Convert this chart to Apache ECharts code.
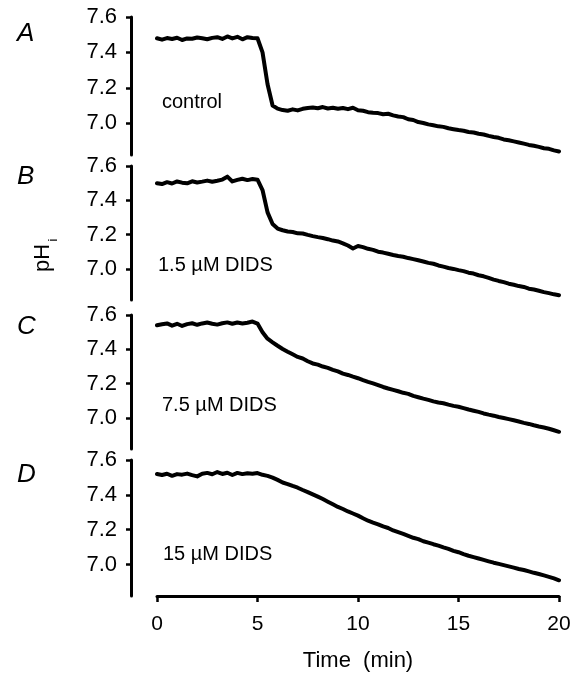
<!DOCTYPE html>
<html>
<head>
<meta charset="utf-8">
<script src="https://cdn.jsdelivr.net/npm/echarts@6/dist/echarts.min.js"></script>
<style>
  html, body { margin: 0; padding: 0; background: #fff; }
  #chart { width: 580px; height: 673px; }
</style>
</head>
<body>
<div id="chart"></div>
<script>
// Time (min)
const timeMin = [0,0.25,0.5,0.75,1,1.25,1.5,1.75,2,2.25,2.5,2.75,3,3.25,3.5,3.75,4,4.25,4.5,4.75,5,5.25,5.5,5.75,6,6.25,6.5,6.75,7,7.25,7.5,7.75,8,8.25,8.5,8.75,9,9.25,9.5,9.75,10,10.25,10.5,10.75,11,11.25,11.5,11.75,12,12.25,12.5,12.75,13,13.25,13.5,13.75,14,14.25,14.5,14.75,15,15.25,15.5,15.75,16,16.25,16.5,16.75,17,17.25,17.5,17.75,18,18.25,18.5,18.75,19,19.25,19.5,19.75,20];

// pHi traces
const phControl = [7.480,7.472,7.481,7.476,7.483,7.470,7.479,7.477,7.484,7.480,7.474,7.482,7.486,7.476,7.490,7.479,7.488,7.474,7.486,7.481,7.480,
  7.40,7.22,7.10,7.082,7.074,7.070,7.078,7.072,7.081,7.086,7.089,7.084,7.091,7.083,7.087,7.081,7.086,7.079,7.087,7.073,7.070,7.062,7.059,7.057,7.050,7.053,7.044,7.038,7.034,7.022,7.018,7.006,7.001,6.993,6.988,6.982,6.979,6.971,6.966,6.961,6.957,6.950,6.947,6.940,6.936,6.928,6.922,6.917,6.908,6.903,6.897,6.891,6.884,6.877,6.872,6.866,6.858,6.855,6.846,6.840];
const phDids15 = [7.500,7.495,7.506,7.498,7.510,7.503,7.499,7.511,7.504,7.509,7.515,7.508,7.514,7.521,7.538,7.510,7.519,7.526,7.518,7.524,7.520,
  7.46,7.33,7.262,7.236,7.226,7.219,7.216,7.208,7.207,7.199,7.192,7.186,7.181,7.174,7.166,7.161,7.150,7.137,7.120,7.134,7.128,7.118,7.112,7.101,7.096,7.089,7.082,7.076,7.072,7.064,7.058,7.051,7.044,7.036,7.031,7.021,7.014,7.006,7.001,6.994,6.988,6.979,6.974,6.964,6.958,6.949,6.939,6.931,6.924,6.915,6.909,6.901,6.896,6.886,6.881,6.874,6.866,6.860,6.853,6.848];
const phDids75 = [7.540,7.546,7.551,7.538,7.549,7.536,7.547,7.552,7.543,7.551,7.556,7.549,7.544,7.552,7.557,7.549,7.556,7.551,7.555,7.562,7.550,
  7.50,7.462,7.441,7.421,7.402,7.386,7.371,7.356,7.347,7.331,7.318,7.311,7.300,7.292,7.281,7.272,7.259,7.251,7.241,7.232,7.221,7.211,7.202,7.192,7.181,7.172,7.164,7.156,7.147,7.141,7.129,7.121,7.113,7.106,7.097,7.091,7.086,7.078,7.071,7.066,7.058,7.050,7.043,7.036,7.027,7.020,7.014,7.006,7.000,6.994,6.987,6.980,6.972,6.966,6.958,6.951,6.945,6.938,6.929,6.920];
const phDids150 = [7.520,7.514,7.521,7.509,7.519,7.516,7.522,7.513,7.506,7.521,7.526,7.518,7.531,7.520,7.527,7.514,7.526,7.519,7.524,7.521,7.525,
  7.515,7.509,7.499,7.486,7.471,7.462,7.451,7.441,7.428,7.416,7.403,7.390,7.376,7.361,7.346,7.331,7.319,7.305,7.293,7.281,7.266,7.252,7.241,7.231,7.219,7.210,7.196,7.186,7.176,7.165,7.154,7.146,7.134,7.126,7.117,7.109,7.099,7.090,7.079,7.071,7.060,7.051,7.043,7.035,7.027,7.019,7.011,7.004,6.997,6.990,6.983,6.975,6.969,6.961,6.953,6.946,6.938,6.930,6.921,6.910];

const panelLetters = ['A', 'B', 'C', 'D'];
const panelLabels = ['control', '1.5 \u00b5M DIDS', '7.5 \u00b5M DIDS', '15 \u00b5M DIDS'];
const yTicks = [7.0, 7.2, 7.4, 7.6];
const xTitle = 'Time  (min)';

const traces = [phControl, phDids15, phDids75, phDids150];
const FONT = '"Liberation Sans", Arial, Helvetica, sans-serif';

const gridTops = [17, 166, 315, 460];
const gridHeights = [138, 134, 134, 136];
const labelY = [102, 265, 405, 554];
const labelX = [162, 158, 162, 163];
const letterY = [34, 177, 327, 475];

const grids = [], xAxes = [], yAxes = [], series = [], graphics = [];
for (let i = 0; i < 4; i++) {
  grids.push({ left: 157, width: 402, top: gridTops[i], height: gridHeights[i] });
  const isLast = i === 3;
  const xa = {
    gridIndex: i, type: 'value', min: 0, max: 20, interval: 5,
    axisLine: { show: isLast, onZero: false, lineStyle: { color: '#000', width: 3 } },
    axisTick: { show: isLast, length: 6, lineStyle: { color: '#000', width: 2.5 } },
    axisLabel: { show: isLast, color: '#000', fontSize: 21, fontFamily: FONT, margin: 18 },
    splitLine: { show: false }
  };
  if (isLast) {
    xa.name = xTitle;
    xa.nameLocation = 'middle';
    xa.nameGap = 54;
    xa.nameTextStyle = { color: '#000', fontSize: 22, fontFamily: FONT };
  }
  xAxes.push(xa);
  yAxes.push({
    gridIndex: i, type: 'value', min: 6.82, max: 7.6,
    offset: 26,
    axisLine: { show: true, onZero: false, lineStyle: { color: '#000', width: 3 } },
    axisTick: { show: true, length: 5, customValues: yTicks, lineStyle: { color: '#000', width: 2.5 } },
    axisLabel: { show: true, color: '#000', fontSize: 22, fontFamily: FONT, margin: 14,
      customValues: yTicks, formatter: v => Number(v).toFixed(1) },
    splitLine: { show: false }
  });
  series.push({
    type: 'line', xAxisIndex: i, yAxisIndex: i,
    data: timeMin.map((t, k) => [t, traces[i][k]]),
    showSymbol: false, symbol: 'none',
    lineStyle: { color: '#000', width: 4, join: 'round', cap: 'round' },
    animation: false
  });
  graphics.push({
    type: 'text', x: 17, y: letterY[i],
    style: { text: panelLetters[i], fill: '#000', font: 'italic 26px ' + FONT, verticalAlign: 'middle', align: 'left' }
  });
  graphics.push({
    type: 'text', x: labelX[i], y: labelY[i],
    style: { text: panelLabels[i], fill: '#000', font: '20px ' + FONT, verticalAlign: 'middle', align: 'left' }
  });
}
graphics.push({
  type: 'text', x: 43, y: 258, rotation: Math.PI / 2,
  style: { text: 'pH', fill: '#000', font: '22px ' + FONT, align: 'center', verticalAlign: 'middle' }
});
graphics.push({
  type: 'text', x: 53, y: 240, rotation: Math.PI / 2,
  style: { text: 'i', fill: '#000', font: '13px ' + FONT, align: 'center', verticalAlign: 'middle' }
});

const chart = echarts.init(document.getElementById('chart'), null, { renderer: 'canvas' });
chart.setOption({
  animation: false,
  backgroundColor: '#fff',
  grid: grids, xAxis: xAxes, yAxis: yAxes, series: series, graphic: graphics
});
</script>
</body>
</html>
